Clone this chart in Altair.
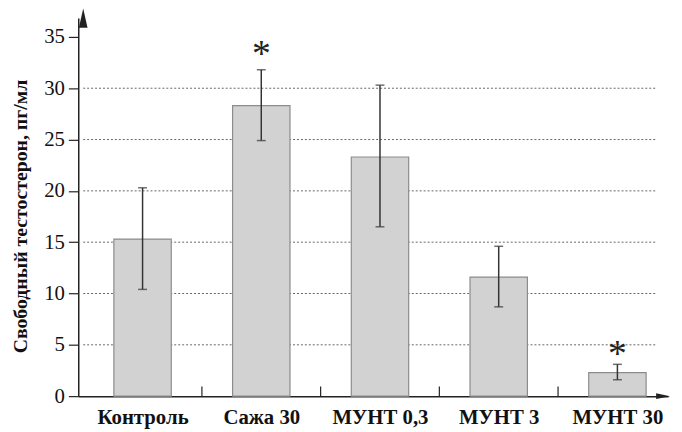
import altair as alt
import pandas as pd
import json

categories = ["Контроль", "Сажа 30", "МУНТ 0,3", "МУНТ 3", "МУНТ 30"]
means = [15.3, 28.3, 23.3, 11.6, 2.3]
err_low = [10.4, 24.9, 16.5, 8.7, 1.6]
err_high = [20.3, 31.8, 30.3, 14.6, 3.1]
significant = [False, True, False, False, True]
star_y = [None, 33.85, None, None, 4.6]
y_ticks = [0, 5, 10, 15, 20, 25, 30, 35]
grid_values = [5, 10, 15, 20, 25, 30]
sep_ticks = [0.5, 1.5, 2.5, 3.5]

FONT = "Liberation Serif"
XMIN, XMAX = -0.5, 4.385
YMAX = 36.83

df = pd.DataFrame({
    "idx": list(range(len(categories))),
    "cat": categories,
    "mean": means,
    "lo": err_low,
    "hi": err_high,
    "sig": significant,
    "star": star_y,
})
df_star = df[df["sig"]]
grid_df = pd.DataFrame({"v": grid_values, "x0": [XMIN] * len(grid_values), "x1": [4.33] * len(grid_values)})
sep_df = pd.DataFrame({"x": sep_ticks, "y0": [0] * 4, "y1": [0.95] * 4})

label_expr = "%s[datum.value]" % json.dumps(categories, ensure_ascii=False)

xscale = alt.Scale(domain=[XMIN, XMAX], nice=False, zero=False)
yscale = alt.Scale(domain=[0, YMAX], nice=False)

xaxis = alt.Axis(values=list(range(len(categories))), labelExpr=label_expr, title=None)
yaxis = alt.Axis(values=y_ticks, title="Свободный тестостерон, пг/мл")

X = lambda f: alt.X(f, scale=xscale, axis=xaxis)
Y = lambda f: alt.Y(f, scale=yscale, axis=yaxis)

base = alt.Chart(df)

grid = alt.Chart(grid_df).mark_rule(color="#666", strokeDash=[2, 2], strokeWidth=1).encode(
    x=X("x0:Q"), x2="x1:Q", y=Y("v:Q"),
)

bars = base.mark_bar(size=58, fill="#d2d2d2", stroke="#8c8c8c", strokeWidth=1.2).encode(
    x=X("idx:Q"), y=Y("mean:Q"),
)

err = base.mark_rule(color="#333", strokeWidth=1.5).encode(
    x=X("idx:Q"), y=Y("lo:Q"), y2="hi:Q",
)
cap_hi = base.mark_tick(color="#333", orient="horizontal", size=9, thickness=1.5).encode(
    x=X("idx:Q"), y=Y("hi:Q"),
)
cap_lo = base.mark_tick(color="#333", orient="horizontal", size=9, thickness=1.5).encode(
    x=X("idx:Q"), y=Y("lo:Q"),
)

stars = alt.Chart(df_star).mark_text(text="*", font=FONT, fontSize=38, color="#222",
                                     baseline="middle", dy=6).encode(
    x=X("idx:Q"), y=Y("star:Q"),
)

seps = alt.Chart(sep_df).mark_rule(color="#222", strokeWidth=1.2).encode(
    x=X("x:Q"), y=Y("y0:Q"), y2="y1:Q",
)

up_arrow = "M -0.45 1 L 0 -1 L 0.45 1 Z"
right_arrow = "M -1 -0.4 L 1 0 L -1 0.4 Z"
arrow_df = pd.DataFrame({"x": [XMIN], "y": [YMAX]})
arrow_up = alt.Chart(arrow_df).mark_point(filled=True, color="#222", size=380, opacity=1,
                                          shape=up_arrow).encode(
    x=X("x:Q"), y=Y("y:Q"),
)
arrow_df2 = pd.DataFrame({"x": [XMAX], "y": [0]})
arrow_right = alt.Chart(arrow_df2).mark_point(filled=True, color="#222", size=200, opacity=1,
                                              shape=right_arrow).encode(
    x=X("x:Q"), y=Y("y:Q"),
)

chart = alt.layer(grid, bars, err, cap_hi, cap_lo, stars, seps, arrow_up, arrow_right).properties(
    width=596, height=382,
    autosize=alt.AutoSizeParams(type="none"),
    padding={"left": 71, "top": 8, "right": 6, "bottom": 34},
    background="white",
).configure_view(stroke=None).configure_axis(
    grid=False, domainColor="#222", domainWidth=1.5, labelColor="#111", titleColor="#111",
    labelFont=FONT, titleFont=FONT,
).configure_axisX(
    ticks=False, labelFontSize=21, labelFontWeight="bold", labelPadding=11,
).configure_axisY(
    labelFontSize=21, labelPadding=4, tickSize=10, tickColor="#222", tickWidth=1.2,
    titleFontSize=20, titleFontWeight="bold", titlePadding=13, titleY=200,
)

chart.save("out.html", embed_options={"renderer": "svg", "actions": False})
